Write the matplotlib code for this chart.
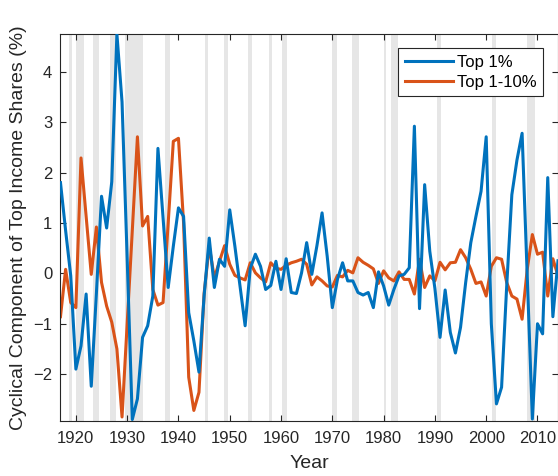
import numpy as np
import matplotlib.pyplot as plt

plt.rcParams['font.family'] = ['Liberation Sans', 'DejaVu Sans']

years = np.arange(1917, 2015)

top1 = [1.80, 0.85, -0.05, -1.90, -1.44, -0.41, -2.24, -0.40, 1.53, 0.90,
        1.82, 4.75, 3.40, 0.30, -2.90, -2.49, -1.27, -1.04, -0.45, 2.48,
        1.10, -0.28, 0.54, 1.30, 1.13, -0.78, -1.34, -1.96, -0.45, 0.70,
        -0.28, 0.28, 0.14, 1.26, 0.54, -0.25, -1.04, 0.10, 0.38, 0.14,
        -0.32, -0.24, 0.24, -0.32, 0.29, -0.38, -0.40, 0.01, 0.61, -0.02,
        0.55, 1.20, 0.34, -0.68, -0.12, 0.21, -0.15, -0.15, -0.38, -0.43,
        -0.38, -0.68, 0.03, -0.25, -0.63, -0.32, -0.05, -0.02, 0.11, 2.92,
        -0.70, 1.76, 0.44, -0.30, -1.27, -0.33, -1.17, -1.58, -1.07, -0.18,
        0.61, 1.13, 1.63, 2.71, -1.00, -2.59, -2.26, -0.25, 1.56, 2.25,
        2.78, -0.05, -2.89, -1.00, -1.20, 1.90, -0.86, 0.25]

top1_10 = [-0.86, 0.08, -0.58, -0.68, 2.29, 1.13, -0.02, 0.92, -0.18, -0.65,
           -0.97, -1.50, -2.85, -1.00, 0.85, 2.71, 0.94, 1.13, -0.32, -0.63,
           -0.58, 1.00, 2.62, 2.68, 1.00, -2.06, -2.72, -2.36, -0.40, 0.54,
           -0.09, 0.24, 0.55, 0.18, -0.04, -0.09, -0.13, 0.21, 0.01, -0.09,
           -0.17, 0.21, 0.10, 0.08, 0.16, 0.21, 0.24, 0.28, 0.18, -0.23,
           -0.07, -0.15, -0.25, -0.27, -0.04, -0.07, 0.06, 0.01, 0.31, 0.22,
           0.16, 0.09, -0.20, 0.05, -0.09, -0.15, 0.03, -0.12, -0.12, -0.41,
           0.28, -0.28, -0.05, -0.15, 0.22, 0.07, 0.21, 0.22, 0.47, 0.31,
           0.08, -0.20, -0.17, -0.45, 0.14, 0.31, 0.28, -0.18, -0.45, -0.51,
           -0.91, 0.08, 0.77, 0.38, 0.42, -0.45, 0.29, -0.05]

# NBER recessions (peak, trough)
recessions = [(1918.58, 1919.17), (1920.0, 1921.5), (1923.33, 1924.5),
              (1926.75, 1927.83), (1929.58, 1933.17), (1937.33, 1938.42),
              (1945.08, 1945.75), (1948.83, 1949.75), (1953.5, 1954.33),
              (1957.58, 1958.25), (1960.25, 1961.08), (1969.92, 1970.83),
              (1973.83, 1975.17), (1980.0, 1980.5), (1981.5, 1982.83),
              (1990.5, 1991.17), (2001.17, 2001.83), (2007.92, 2009.42)]

fig = plt.figure(figsize=(5.58, 4.76), dpi=100)
ax = fig.add_axes([0.1084, 0.1155, 0.8916, 0.8131])

for start, end in recessions:
    ax.axvspan(start, end, color=(0.9, 0.9, 0.9), lw=0, zorder=0)

ax.plot(years, top1, color='#0072BD', lw=2.2, label='Top 1%', zorder=3)
ax.plot(years, top1_10, color='#D95319', lw=2.2, label='Top 1-10%', zorder=2)

ax.set_xlim(1917, 2014)
ax.set_ylim(-2.93, 4.75)
ax.set_xticks(np.arange(1920, 2011, 10))
ax.set_yticks(np.arange(-2, 5, 1))
ax.tick_params(direction='in', top=True, right=True, labelsize=12,
               colors='#262626', length=4)
ax.tick_params(axis='x', pad=7)
ax.tick_params(axis='y', pad=6)
for s in ax.spines.values():
    s.set_color('#262626')
    s.set_linewidth(0.8)

ax.set_xlabel('Year', fontsize=14, color='#262626', labelpad=7)
ax.set_ylabel('Cyclical Component of Top Income Shares (%)', fontsize=14,
              color='#262626', labelpad=4)

leg = ax.legend(loc='upper right', bbox_to_anchor=(0.97, 0.964), fontsize=12,
                handlelength=2.9, handletextpad=0.2, borderaxespad=0,
                fancybox=False, framealpha=1, edgecolor='#262626',
                borderpad=0.4, labelspacing=0.3)
leg.get_frame().set_linewidth(0.8)

fig.savefig('out.png', dpi=100)
